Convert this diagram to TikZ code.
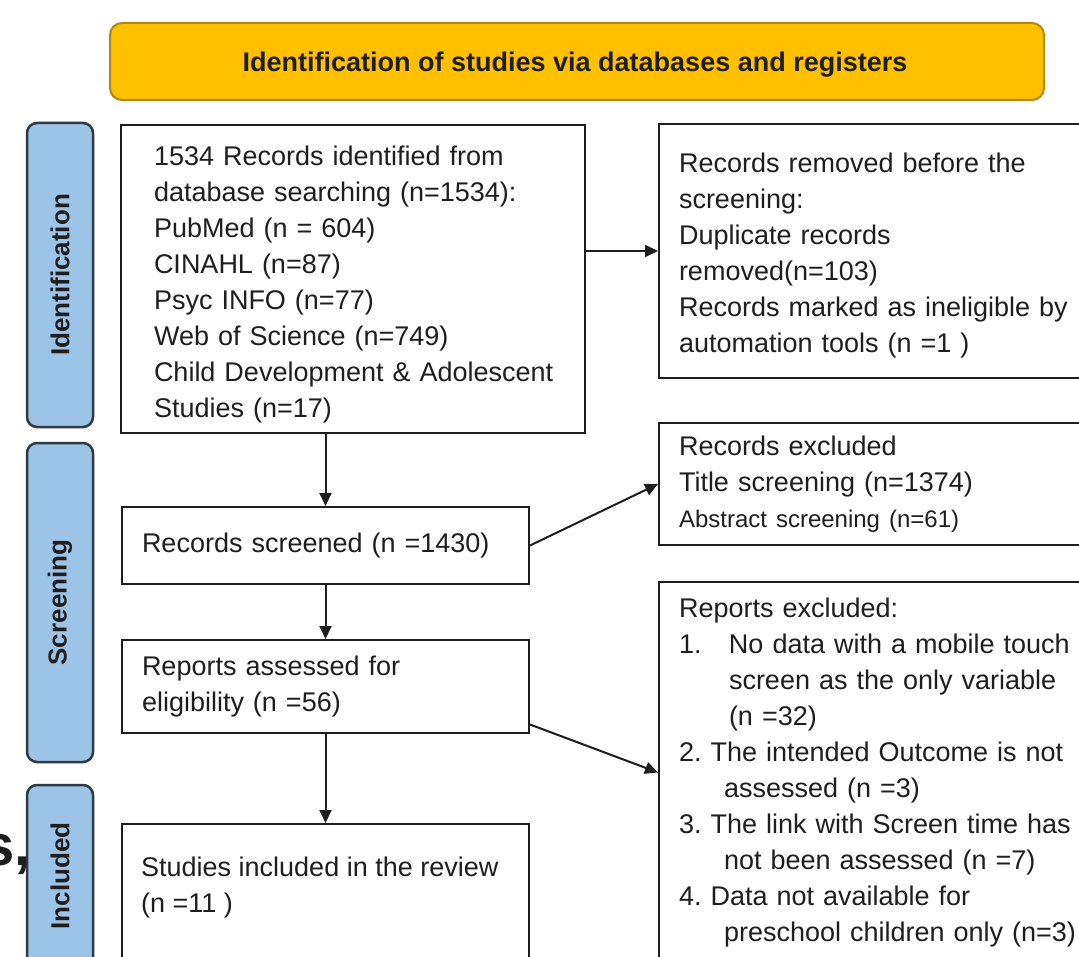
\documentclass[tikz,border=0pt]{standalone}
\usepackage{fontspec}
\setmainfont{Liberation Sans}
\usetikzlibrary{arrows.meta,calc}
\definecolor{hdrfill}{HTML}{FFC000}
\definecolor{hdrline}{HTML}{B08A10}
\definecolor{labfill}{HTML}{9DC3E6}
\definecolor{labline}{HTML}{2E3A46}
\definecolor{ink}{HTML}{1E1E1E}
\frenchspacing
\begin{document}
\begin{tikzpicture}[x=1pt,y=-1pt,
  box/.style={draw=ink, line width=2pt, fill=white, anchor=north west,
    inner xsep=20pt, inner ysep=0pt, align=left, text=ink,
    font=\fontsize{27}{36}\selectfont},
  txt/.style={anchor=north west, inner sep=0pt, align=left, text=ink,
    font=\fontsize{27}{36}\selectfont},
  lab/.style={draw=labline, fill=labfill, line width=2.5pt, rounded corners=10pt,
    rotate=90, minimum height=66pt, inner sep=0pt, text=ink,
    font=\fontsize{26}{30}\selectfont\bfseries},
  arr/.style={draw=ink, line width=2pt, -{Triangle[length=13pt,width=12pt]}}
]
\clip (0,0) rectangle (1079,957);
\fill[white] (0,0) rectangle (1079,957);

% cut-off fragment at left edge
\node[anchor=base west, inner sep=0pt, text=ink,
  font=\fontsize{58}{60}\selectfont\bfseries] (frag) at (-18,865) {s,};

% header
\node[draw=hdrline, fill=hdrfill, line width=2pt, rounded corners=12pt,
  minimum width=934pt, minimum height=77pt] (hdr) at (577,61.5) {};
\node[inner sep=0pt, text=ink, anchor=base,
  font=\fontsize{27}{32}\selectfont\bfseries] (hdrt) at (575,72)
  {Identification of studies via databases and registers};

% phase labels
\node[lab, minimum width=304pt] (lid) at (60,275) {Identification};
\node[lab, minimum width=319pt] (lsc) at (60,602.5) {Screening};
\node[lab, minimum width=182pt] (lin) at (60,876) {Included};

% boxes
\node[box, minimum width=464pt, minimum height=308pt, inner xsep=33pt, text width=398pt]
  (b1) at (120,124)
  {\rule{0pt}{30pt}1534 Records identified from\\database searching (n=1534):\\PubMed (n = 604)\\CINAHL (n=87)\\Psyc INFO (n=77)\\Web of Science (n=749)\\\mbox{Child Development \& Adolescent}\\Studies (n=17)};

\node[box, minimum width=470pt, minimum height=254pt, text width=430pt]
  (rem) at (658,123)
  {\rule{0pt}{29pt}Records removed before the\\screening:\\Duplicate records\\removed(n=103)\\Records marked as ineligible by\\automation tools (n =1 )};

\node[box, minimum width=470pt, minimum height=122pt, text width=430pt]
  (exc) at (658,422)
  {Records excluded\\Title screening (n=1374)\\{\fontsize{24}{34}\selectfont Abstract screening (n=61)}};

\node[box, minimum width=407pt, minimum height=77pt, text width=367pt]
  (scr) at (121,506) {Records screened (n =1430)};

\node[box, minimum width=407pt, minimum height=93pt, text width=367pt]
  (asr) at (121,639) {Reports assessed for\\eligibility (n =56)};

\node[box, minimum width=470pt, minimum height=381pt, text width=430pt]
  (rex) at (658,581)
  {Reports excluded:\\
   \makebox[50pt][l]{1.}No data with a mobile touch\\
   \hspace*{50pt}screen as the only variable\\
   \hspace*{50pt}(n =32)\\
   2. The intended Outcome is not\\
   \hspace*{45pt}assessed (n =3)\\
   3. The link with Screen time has\\
   \hspace*{45pt}not been assessed (n =7)\\
   4. Data not available for\\
   \hspace*{45pt}preschool children only (n=3)};

\node[box, minimum width=407pt, minimum height=200pt] (inc) at (121,823) {};
\node[txt] (inct) at (141,857) {Studies included in the review\\(n =11 )};

% connectors
\draw[arr] (rem.west -| b1.east) -- (rem.west);
\draw[arr] (scr.north |- b1.south) -- (scr.north);
\draw[arr] (scr.east) -- (exc.west);
\draw[arr] (scr.south) -- (asr.north);
\draw[arr] ($(asr.north east)!0.9!(asr.south east)$) -- (rex.west);
\draw[arr] (asr.south) -- (inc.north);
\end{tikzpicture}
\end{document}
